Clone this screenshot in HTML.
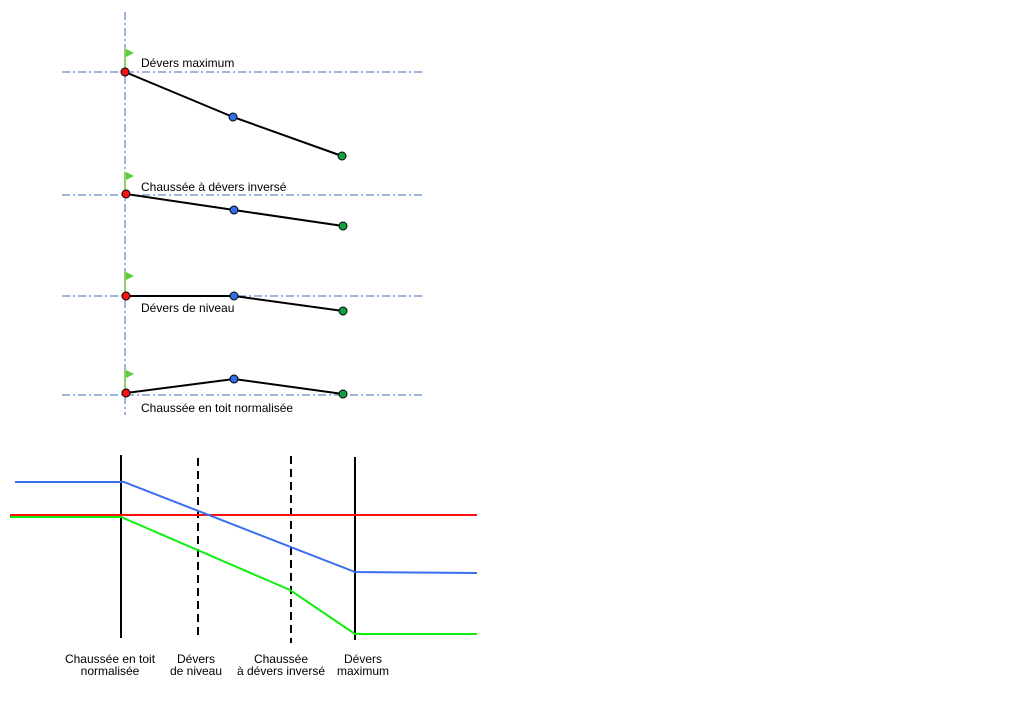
<!DOCTYPE html>
<html><head><meta charset="utf-8"><style>
html,body{margin:0;padding:0;background:#fff;width:1024px;height:720px;overflow:hidden}
text{font-family:"Liberation Sans",sans-serif;font-size:12px;fill:#000}
</style></head><body>
<svg width="1024" height="720" xmlns="http://www.w3.org/2000/svg">
<g stroke="#3f6fb5" stroke-width="1" stroke-dasharray="8,3,2,3" fill="none">
<line x1="125" y1="12" x2="125" y2="415"/>
<line x1="62" y1="72" x2="424" y2="72"/>
<line x1="62" y1="195" x2="424" y2="195"/>
<line x1="62" y1="296" x2="424" y2="296"/>
<line x1="62" y1="395" x2="424" y2="395"/>
</g>
<g stroke="#6cbf3c" stroke-width="1.5">
<line x1="125" y1="49" x2="125" y2="72"/>
<line x1="125" y1="172" x2="125" y2="194"/>
<line x1="125" y1="272" x2="125" y2="296"/>
<line x1="125" y1="370" x2="125" y2="393"/>
</g>
<g fill="#5ccc3c">
<polygon points="126,49 134,53 126,57"/>
<polygon points="126,172 134,176 126,180"/>
<polygon points="126,272 134,276 126,280"/>
<polygon points="126,370 134,374 126,378"/>
</g>
<g stroke="#000" stroke-width="2" fill="none">
<polyline points="125,72 233,117 342,156"/>
<polyline points="126,194 234,210 343,226"/>
<polyline points="126,296 234,296 343,311"/>
<polyline points="126,393 234,379 343,394"/>
</g>
<g stroke="#000" stroke-width="1">
<circle cx="125" cy="72" r="4" fill="#ff1010"/><circle cx="233" cy="117" r="4" fill="#2f6fe8"/><circle cx="342" cy="156" r="4" fill="#10a040"/>
<circle cx="126" cy="194" r="4" fill="#ff1010"/><circle cx="234" cy="210" r="4" fill="#2f6fe8"/><circle cx="343" cy="226" r="4" fill="#10a040"/>
<circle cx="126" cy="296" r="4" fill="#ff1010"/><circle cx="234" cy="296" r="4" fill="#2f6fe8"/><circle cx="343" cy="311" r="4" fill="#10a040"/>
<circle cx="126" cy="393" r="4" fill="#ff1010"/><circle cx="234" cy="379" r="4" fill="#2f6fe8"/><circle cx="343" cy="394" r="4" fill="#10a040"/>
</g>
<text x="141" y="67">Dévers maximum</text>
<text x="141" y="191">Chaussée à dévers inversé</text>
<text x="141" y="312">Dévers de niveau</text>
<text x="141" y="412">Chaussée en toit normalisée</text>

<g stroke="#000" stroke-width="2">
<line x1="121" y1="455" x2="121" y2="638"/>
<line x1="355" y1="457" x2="355" y2="640"/>
<line x1="198" y1="458" x2="198" y2="640" stroke-dasharray="8,5"/>
<line x1="291" y1="456" x2="291" y2="643" stroke-dasharray="8,5"/>
</g>
<g fill="none" stroke-width="2">
<polyline stroke="#ff1010" points="10,515 477,515"/>
<polyline stroke="#3a6ff0" points="15,482 124,482 355,572 477,573"/>
<polyline stroke="#10ee10" points="10,517 121,517 290,590 355,634 477,634"/>
</g>
<g text-anchor="middle">
<text x="110" y="663">Chaussée en toit</text><text x="110" y="675">normalisée</text>
<text x="196" y="663">Dévers</text><text x="196" y="675">de niveau</text>
<text x="281" y="663">Chaussée</text><text x="281" y="675">à dévers inversé</text>
<text x="363" y="663">Dévers</text><text x="363" y="675">maximum</text>
</g>
</svg>
</body></html>
